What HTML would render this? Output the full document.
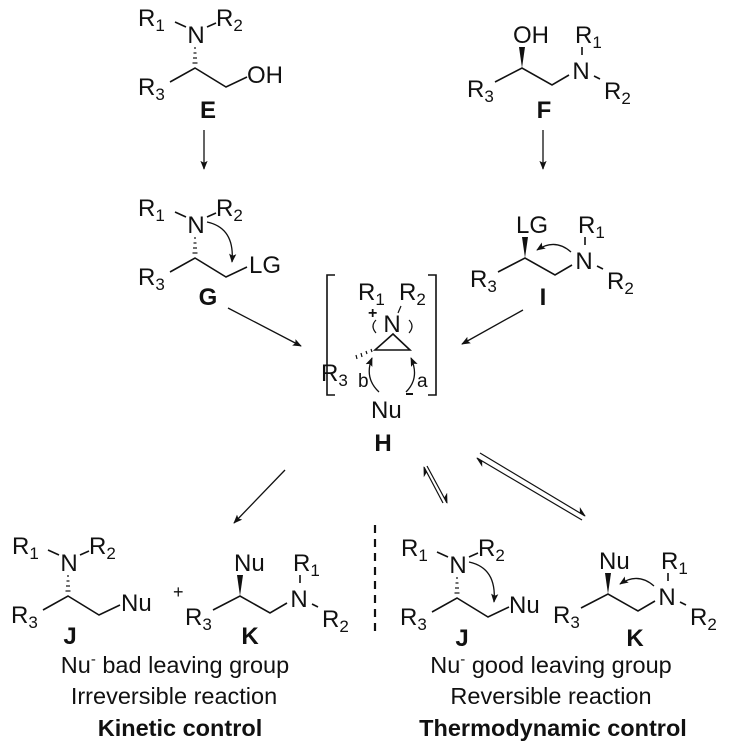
<!DOCTYPE html>
<html><head><meta charset="utf-8"><style>
html,body{margin:0;padding:0;background:#fff}
svg{display:block;font-family:"Liberation Sans",Arial,sans-serif}
text{fill:#111}
</style></head><body>
<svg width="732" height="753" viewBox="0 0 732 753" xmlns="http://www.w3.org/2000/svg">
<defs>
<marker id="ah" viewBox="0 0 10 10" refX="9" refY="5" markerWidth="9" markerHeight="9" markerUnits="userSpaceOnUse" orient="auto"><path d="M0,1 L10,5 L0,9 L2,5 Z" fill="#111"/></marker>
<marker id="hh" viewBox="0 0 10 10" refX="9" refY="5" markerWidth="10" markerHeight="10" markerUnits="userSpaceOnUse" orient="auto"><path d="M0,0 L10,5 L3,5 Z" fill="#111"/></marker>
</defs>
<g stroke="#111" stroke-width="1.6" fill="none">

<g transform="translate(195,68)">
 <line x1="-20" y1="-46" x2="-9" y2="-41"/><line x1="12" y1="-41" x2="21" y2="-45"/>
 <g stroke-width="1.2"><line x1="-1" y1="-20" x2="1" y2="-20"/><line x1="-1.5" y1="-15" x2="1.5" y2="-15"/><line x1="-2" y1="-10" x2="2" y2="-10"/><line x1="-2.5" y1="-5" x2="2.5" y2="-5"/></g>
 <polyline points="-25,14 0,0 31,19 52,9"/>
</g>
<g transform="translate(195,258)">
 <line x1="-20" y1="-46" x2="-9" y2="-41"/><line x1="12" y1="-41" x2="21" y2="-45"/>
 <g stroke-width="1.2"><line x1="-1" y1="-20" x2="1" y2="-20"/><line x1="-1.5" y1="-15" x2="1.5" y2="-15"/><line x1="-2" y1="-10" x2="2" y2="-10"/><line x1="-2.5" y1="-5" x2="2.5" y2="-5"/></g>
 <polyline points="-25,14 0,0 31,19 52,9"/>
 <path d="M12,-36 Q40,-30 37,4" stroke-width="1.3" marker-end="url(#ah)"/>
</g>
<g transform="translate(68,596)">
 <line x1="-20" y1="-46" x2="-9" y2="-41"/><line x1="12" y1="-41" x2="21" y2="-45"/>
 <g stroke-width="1.2"><line x1="-1" y1="-20" x2="1" y2="-20"/><line x1="-1.5" y1="-15" x2="1.5" y2="-15"/><line x1="-2" y1="-10" x2="2" y2="-10"/><line x1="-2.5" y1="-5" x2="2.5" y2="-5"/></g>
 <polyline points="-25,14 0,0 31,19 52,9"/>
</g>
<g transform="translate(457,598)">
 <line x1="-20" y1="-46" x2="-9" y2="-41"/><line x1="12" y1="-41" x2="21" y2="-45"/>
 <g stroke-width="1.2"><line x1="-1" y1="-20" x2="1" y2="-20"/><line x1="-1.5" y1="-15" x2="1.5" y2="-15"/><line x1="-2" y1="-10" x2="2" y2="-10"/><line x1="-2.5" y1="-5" x2="2.5" y2="-5"/></g>
 <polyline points="-25,14 0,0 31,19 52,9"/>
 <path d="M12,-36 Q40,-30 37,4" stroke-width="1.3" marker-end="url(#ah)"/>
</g>

<g transform="translate(522,68)">
 <polygon points="0,0 -3,-21 3,-21" fill="#111" stroke="none"/>
 <polyline points="-27,14 0,0 30,17 47,7"/>
 <line x1="60" y1="-21" x2="60" y2="-13"/><line x1="72" y1="8" x2="78" y2="11"/>
</g>
<g transform="translate(525,258)">
 <polygon points="0,0 -3,-21 3,-21" fill="#111" stroke="none"/>
 <polyline points="-27,14 0,0 30,17 47,7"/>
 <line x1="60" y1="-21" x2="60" y2="-13"/><line x1="72" y1="8" x2="78" y2="11"/>
 <path d="M46,-6 Q30,-20 12,-8" stroke-width="1.3" marker-end="url(#ah)"/>
</g>
<g transform="translate(240,596)">
 <polygon points="0,0 -3,-21 3,-21" fill="#111" stroke="none"/>
 <polyline points="-27,14 0,0 30,17 47,7"/>
 <line x1="60" y1="-21" x2="60" y2="-13"/><line x1="72" y1="8" x2="78" y2="11"/>
</g>
<g transform="translate(608,594)">
 <polygon points="0,0 -3,-21 3,-21" fill="#111" stroke="none"/>
 <polyline points="-27,14 0,0 30,17 47,7"/>
 <line x1="60" y1="-21" x2="60" y2="-13"/><line x1="72" y1="8" x2="78" y2="11"/>
 <path d="M46,-8 Q30,-22 12,-10" stroke-width="1.3" marker-end="url(#ah)"/>
</g>

<polyline points="335,275 327,275 327,395 335,395"/>
<polyline points="428,275 436,275 436,395 428,395"/>
<polygon points="375,350 410,350 393,334"/>
<line x1="401" y1="306" x2="398" y2="313" stroke-width="1.2"/>
<g stroke-width="1.2"><line x1="372" y1="352" x2="371" y2="349"/><line x1="367" y1="354" x2="366" y2="351"/><line x1="362" y1="357" x2="361" y2="353"/><line x1="357" y1="359" x2="356" y2="355"/></g>
<path d="M379,392 Q364,378 372,358" stroke-width="1.3" marker-end="url(#ah)"/>
<path d="M406,392 Q420,378 411,358" stroke-width="1.3" marker-end="url(#ah)"/>
<path d="M376,333 Q370,326 376,320" stroke-width="1.2"/>
<path d="M409,333 Q415,326 409,320" stroke-width="1.2"/>
<line x1="406" y1="394" x2="413" y2="394" stroke-width="2"/>

<line x1="204" y1="130" x2="204" y2="169" stroke-width="1.3" marker-end="url(#ah)"/>
<line x1="543" y1="130" x2="543" y2="169" stroke-width="1.3" marker-end="url(#ah)"/>
<line x1="228" y1="308" x2="301" y2="346" stroke-width="1.3" marker-end="url(#ah)"/>
<line x1="523" y1="310" x2="462" y2="344" stroke-width="1.3" marker-end="url(#ah)"/>
<line x1="285" y1="470" x2="234" y2="523" stroke-width="1.3" marker-end="url(#ah)"/>
<line x1="427" y1="466" x2="447" y2="503" stroke-width="1.2" marker-end="url(#hh)"/>
<line x1="443" y1="503" x2="424" y2="467" stroke-width="1.2" marker-end="url(#hh)"/>
<line x1="480" y1="453" x2="585" y2="516" stroke-width="1.2" marker-end="url(#hh)"/>
<line x1="582" y1="520" x2="477" y2="458" stroke-width="1.2" marker-end="url(#hh)"/>
<line x1="375" y1="525" x2="375" y2="637" stroke-width="2.2" stroke-dasharray="8,6"/>
</g>

<g font-size="24">
<text x="138" y="26">R<tspan font-size="17" dy="5">1</tspan></text>
<text x="216" y="26">R<tspan font-size="17" dy="5">2</tspan></text>
<text x="196" y="43" text-anchor="middle">N</text>
<text x="138" y="95">R<tspan font-size="17" dy="5">3</tspan></text>
<text x="247" y="83">OH</text>
<text x="208" y="118" font-weight="bold" text-anchor="middle">E</text>

<text x="138" y="216">R<tspan font-size="17" dy="5">1</tspan></text>
<text x="216" y="216">R<tspan font-size="17" dy="5">2</tspan></text>
<text x="196" y="233" text-anchor="middle">N</text>
<text x="138" y="285">R<tspan font-size="17" dy="5">3</tspan></text>
<text x="249" y="273">LG</text>
<text x="208" y="305" font-weight="bold" text-anchor="middle">G</text>

<text x="12" y="554">R<tspan font-size="17" dy="5">1</tspan></text>
<text x="89" y="554">R<tspan font-size="17" dy="5">2</tspan></text>
<text x="69" y="571" text-anchor="middle">N</text>
<text x="11" y="623">R<tspan font-size="17" dy="5">3</tspan></text>
<text x="121" y="611">Nu</text>
<text x="70" y="644" font-weight="bold" text-anchor="middle">J</text>

<text x="401" y="556">R<tspan font-size="17" dy="5">1</tspan></text>
<text x="478" y="556">R<tspan font-size="17" dy="5">2</tspan></text>
<text x="458" y="573" text-anchor="middle">N</text>
<text x="400" y="625">R<tspan font-size="17" dy="5">3</tspan></text>
<text x="509" y="613">Nu</text>
<text x="462" y="646" font-weight="bold" text-anchor="middle">J</text>

<text x="513" y="43">OH</text>
<text x="575" y="43">R<tspan font-size="17" dy="5">1</tspan></text>
<text x="581" y="79" text-anchor="middle">N</text>
<text x="604" y="99">R<tspan font-size="17" dy="5">2</tspan></text>
<text x="467" y="97">R<tspan font-size="17" dy="5">3</tspan></text>
<text x="544" y="118" font-weight="bold" text-anchor="middle">F</text>

<text x="516" y="233">LG</text>
<text x="578" y="233">R<tspan font-size="17" dy="5">1</tspan></text>
<text x="584" y="269" text-anchor="middle">N</text>
<text x="607" y="289">R<tspan font-size="17" dy="5">2</tspan></text>
<text x="470" y="287">R<tspan font-size="17" dy="5">3</tspan></text>
<text x="543" y="305" font-weight="bold" text-anchor="middle">I</text>

<text x="234" y="571">Nu</text>
<text x="293" y="571">R<tspan font-size="17" dy="5">1</tspan></text>
<text x="299" y="607" text-anchor="middle">N</text>
<text x="322" y="627">R<tspan font-size="17" dy="5">2</tspan></text>
<text x="185" y="625">R<tspan font-size="17" dy="5">3</tspan></text>
<text x="250" y="644" font-weight="bold" text-anchor="middle">K</text>
<text x="173" y="598" font-size="18">+</text>

<text x="599" y="569">Nu</text>
<text x="661" y="569">R<tspan font-size="17" dy="5">1</tspan></text>
<text x="667" y="605" text-anchor="middle">N</text>
<text x="690" y="625">R<tspan font-size="17" dy="5">2</tspan></text>
<text x="553" y="623">R<tspan font-size="17" dy="5">3</tspan></text>
<text x="635" y="646" font-weight="bold" text-anchor="middle">K</text>

<text x="358" y="300">R<tspan font-size="17" dy="5">1</tspan></text>
<text x="399" y="300">R<tspan font-size="17" dy="5">2</tspan></text>
<text x="392" y="332" text-anchor="middle">N</text>
<text x="368" y="318" font-size="16" font-weight="bold">+</text>
<text x="321" y="381">R<tspan font-size="17" dy="5">3</tspan></text>
<text x="358" y="387" font-size="19">b</text>
<text x="417" y="387" font-size="19">a</text>
<text x="371" y="418">Nu</text>
<text x="383" y="451" font-weight="bold" text-anchor="middle">H</text>
</g>
<g font-size="23.5">
<text x="175" y="673" text-anchor="middle">Nu<tspan font-size="15" dy="-9">-</tspan><tspan dy="9"> bad leaving group</tspan></text>
<text x="174" y="704" text-anchor="middle">Irreversible reaction</text>
<text x="180" y="736" text-anchor="middle" font-weight="bold">Kinetic control</text>
<text x="551" y="673" text-anchor="middle">Nu<tspan font-size="15" dy="-9">-</tspan><tspan dy="9"> good leaving group</tspan></text>
<text x="551" y="704" text-anchor="middle">Reversible reaction</text>
<text x="553" y="736" text-anchor="middle" font-weight="bold">Thermodynamic control</text>
</g>
</svg>
</body></html>
